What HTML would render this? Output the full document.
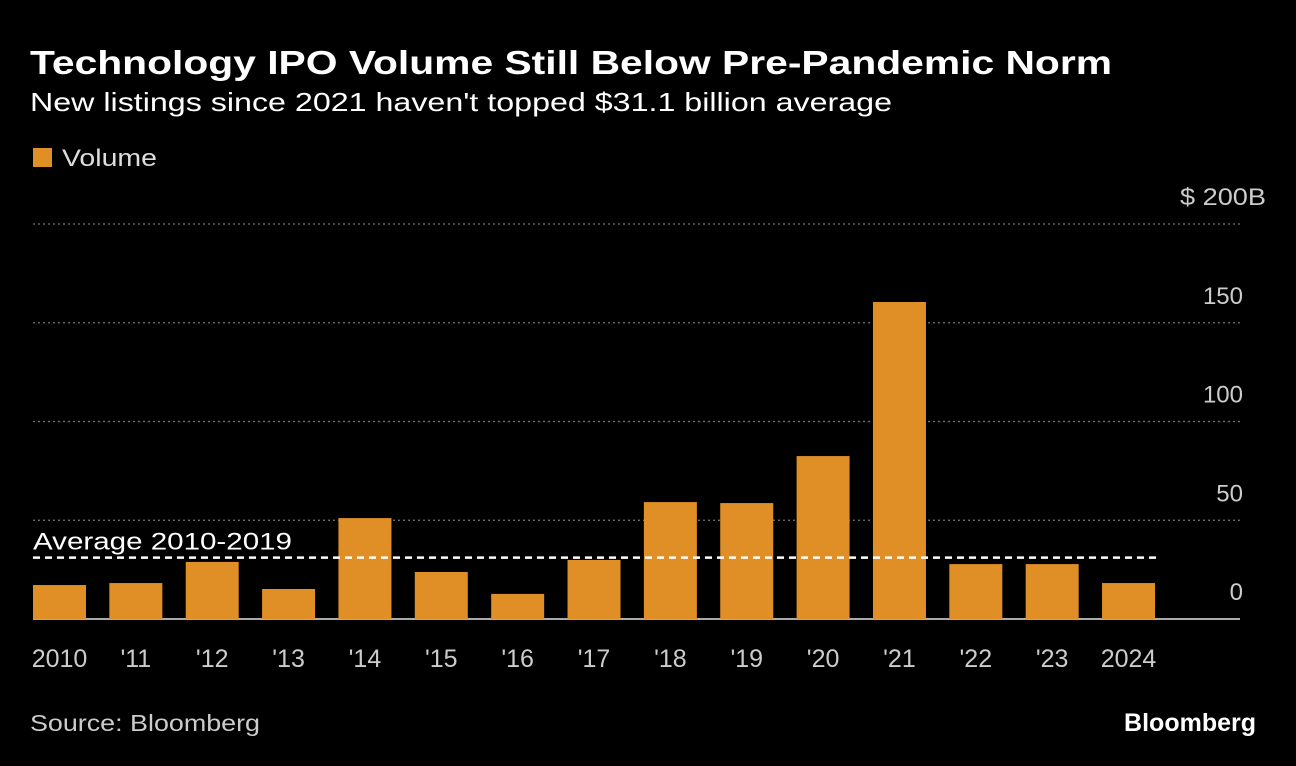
<!DOCTYPE html>
<html><head><meta charset="utf-8"><style>
body{margin:0;background:#000;width:1296px;height:766px;overflow:hidden;font-family:"Liberation Sans",sans-serif;color:#fff}
svg{position:absolute;left:0;top:0}
</style></head><body>
<svg width="1296" height="766">
<text x="30" y="74" font-size="33" font-weight="bold" fill="#fff" textLength="1082" lengthAdjust="spacingAndGlyphs">Technology IPO Volume Still Below Pre-Pandemic Norm</text>
<text x="30" y="111" font-size="26" fill="#fff" textLength="862" lengthAdjust="spacingAndGlyphs">New listings since 2021 haven't topped $31.1 billion average</text>
<rect x="33" y="148" width="19" height="19" fill="#e08e26"/>
<text x="62" y="166" font-size="24" fill="#ddd" textLength="95" lengthAdjust="spacingAndGlyphs">Volume</text>
<g id="grid"></g><g id="bars"></g><g id="xl"></g>
<text x="30" y="731" font-size="23" fill="#ccc" textLength="230" lengthAdjust="spacingAndGlyphs">Source: Bloomberg</text>
<text x="1256" y="731" font-size="25" font-weight="bold" fill="#fff" text-anchor="end">Bloomberg</text>
</svg>
<script>
const categories=["2010","'11","'12","'13","'14","'15","'16","'17","'18","'19","'20","'21","'22","'23","2024"];
const volumes=[17.2,18.2,28.9,15.2,51.1,23.8,12.7,29.9,59.2,58.7,82.5,160.5,27.8,27.8,18.2];
const ticks=[0,50,100,150,200];
const tickLabels=["0","50","100","150","$ 200B"];
const average=31.1;
const NS="http://www.w3.org/2000/svg";
const y=v=>619-v*1.975;
const x=i=>33+i*76.36;
function mk(tag,attrs,parent,txt){const e=document.createElementNS(NS,tag);for(const k in attrs)e.setAttribute(k,attrs[k]);if(txt!=null)e.textContent=txt;document.getElementById(parent).appendChild(e);return e;}
ticks.forEach((t,i)=>{
 if(t>0){const l=mk('line',{x1:33,x2:1240,y1:y(t),y2:y(t),stroke:'#777','stroke-width':1.3,'stroke-dasharray':'2,3'},'grid');
 
 }
 const last=i===ticks.length-1;
 const tx=mk('text',last?{x:1180,y:y(t)-19,'font-size':24,fill:'#ccc',textLength:86,lengthAdjust:'spacingAndGlyphs'}:{x:1243,y:y(t)-19,'font-size':24,fill:'#ccc','text-anchor':'end'},'grid',tickLabels[i]);
 
 
});
const base=mk('line',{x1:33,x2:1240,y1:619,y2:619,stroke:'#aaa','stroke-width':2},'grid');


volumes.forEach((v,i)=>{
 const r=mk('rect',{x:x(i),y:y(v),width:53,height:619-y(v),fill:'#e08e26'},'bars');
 
 
 const t=mk('text',{x:x(i)+26.5,y:667,'font-size':25,fill:'#ccc','text-anchor':'middle'},'xl',categories[i]);
 
 
});
const av=mk('line',{x1:33,x2:1157,y1:y(average),y2:y(average),stroke:'#fff','stroke-width':2.5,'stroke-dasharray':'7,5'},'bars');


const at=mk('text',{x:33,y:y(average)-8,'font-size':24,fill:'#fff',textLength:259,lengthAdjust:'spacingAndGlyphs'},'bars','Average 2010-2019');


</script>
</body></html>
